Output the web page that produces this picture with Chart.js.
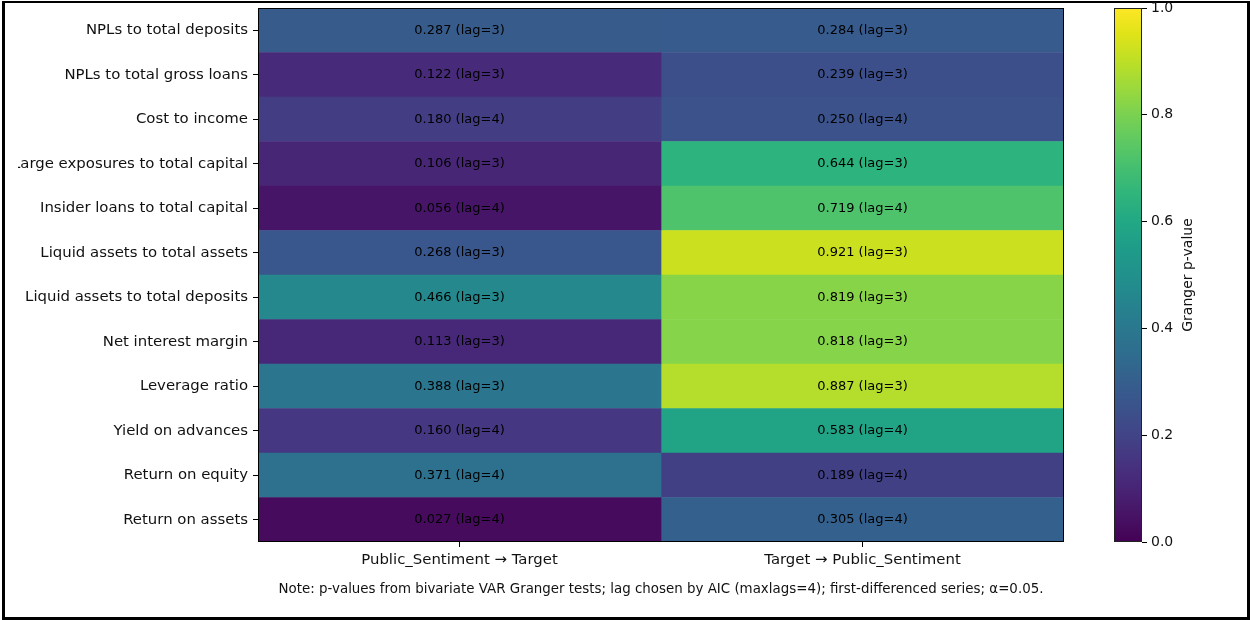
<!DOCTYPE html>
<html>
<head>
<meta charset="utf-8">
<script src="https://cdn.jsdelivr.net/npm/chart.js@4.4.1/dist/chart.umd.min.js"></script>
<style>
  html, body { margin: 0; padding: 0; background: #fff; }
  #frame {
    position: absolute; left: 2px; top: 1px; width: 1242px; height: 614px;
    border: 3px solid #000; border-top-width: 2px;
  }
  #heat { position: absolute; left: 18px; top: 0; }
  #cbar { position: absolute; left: 1100px; top: 0; }
</style>
</head>
<body>
<div id="frame"></div>
<canvas id="heat" width="1078" height="616"></canvas>
<canvas id="cbar" width="140" height="616"></canvas>
<script>
// Banking indicators tested against public sentiment
const indicators = [
  'NPLs to total deposits',
  'NPLs to total gross loans',
  'Cost to income',
  'Large exposures to total capital',
  'Insider loans to total capital',
  'Liquid assets to total assets',
  'Liquid assets to total deposits',
  'Net interest margin',
  'Leverage ratio',
  'Yield on advances',
  'Return on equity',
  'Return on assets'
];
const directions = ['Public_Sentiment \u2192 Target', 'Target \u2192 Public_Sentiment'];

// Granger p-values and AIC-selected lags, one entry per indicator
const pSentimentToTarget = [0.287, 0.122, 0.180, 0.106, 0.056, 0.268, 0.466, 0.113, 0.388, 0.160, 0.371, 0.027];
const lagSentimentToTarget = [3, 3, 4, 3, 4, 3, 3, 3, 3, 4, 4, 4];
const pTargetToSentiment = [0.284, 0.239, 0.250, 0.644, 0.719, 0.921, 0.819, 0.818, 0.887, 0.583, 0.189, 0.305];
const lagTargetToSentiment = [3, 3, 4, 3, 4, 3, 3, 3, 3, 4, 4, 4];

const colorbarTicks = [0.0, 0.2, 0.4, 0.6, 0.8, 1.0];
const noteText = 'Note: p-values from bivariate VAR Granger tests; lag chosen by AIC (maxlags=4); first-differenced series; \u03b1=0.05.';

// viridis colormap sampled every 0.05
const viridisStops = [
  '#440154', '#471365', '#482475', '#463480', '#414487', '#3b528b', '#355f8d',
  '#2f6c8e', '#2a788e', '#25848e', '#21918c', '#1e9c89', '#22a884', '#2fb47c',
  '#44bf70', '#5ec962', '#7ad151', '#9bd93c', '#bddf26', '#dfe318', '#fde725'
];
function hexToRgb(h) {
  return [parseInt(h.slice(1, 3), 16), parseInt(h.slice(3, 5), 16), parseInt(h.slice(5, 7), 16)];
}
function viridis(t) {
  t = Math.max(0, Math.min(1, t));
  const pos = t * (viridisStops.length - 1);
  const i = Math.min(Math.floor(pos), viridisStops.length - 2);
  const f = pos - i;
  const a = hexToRgb(viridisStops[i]), b = hexToRgb(viridisStops[i + 1]);
  const c = a.map((v, k) => Math.round(v + (b[k] - v) * f));
  return 'rgb(' + c.join(',') + ')';
}

const FONT = '"DejaVu Sans", sans-serif';
const TEXT = '#111';

// drop the extra room Chart.js reserves for edge labels
function noEdgePadding(s) {
  s.paddingTop = 0; s.paddingBottom = 0; s.paddingLeft = 0; s.paddingRight = 0;
}

// cell annotations, axes frame and footnote
const heatExtras = {
  id: 'heatExtras',
  afterDatasetsDraw(chart) {
    const ctx = chart.ctx;
    const area = chart.chartArea;
    ctx.save();
    ctx.font = '13px ' + FONT;
    ctx.fillStyle = '#000';
    ctx.textAlign = 'center';
    ctx.textBaseline = 'middle';
    chart.data.datasets.forEach((ds, di) => {
      chart.getDatasetMeta(di).data.forEach((bar, i) => {
        const cx = (bar.x + bar.base) / 2;
        ctx.fillText(ds.pValues[i].toFixed(3) + ' (lag=' + ds.lags[i] + ')', cx, bar.y);
      });
    });
    ctx.strokeStyle = '#000';
    ctx.lineWidth = 1;
    ctx.strokeRect(area.left + 0.5, area.top + 0.5, area.right - area.left - 1, area.bottom - area.top - 1);
    ctx.font = '13.4px ' + FONT;
    ctx.fillStyle = TEXT;
    ctx.fillText(noteText, (area.left + area.right) / 2, 590);
    ctx.restore();
  }
};

new Chart(document.getElementById('heat'), {
  type: 'bar',
  data: {
    labels: indicators,
    datasets: [
      {
        label: directions[0],
        data: indicators.map(() => 1),
        pValues: pSentimentToTarget,
        lags: lagSentimentToTarget,
        backgroundColor: pSentimentToTarget.map(viridis),
        borderWidth: 0,
        barPercentage: 1,
        categoryPercentage: 1
      },
      {
        label: directions[1],
        data: indicators.map(() => 1),
        pValues: pTargetToSentiment,
        lags: lagTargetToSentiment,
        backgroundColor: pTargetToSentiment.map(viridis),
        borderWidth: 0,
        barPercentage: 1,
        categoryPercentage: 1
      }
    ]
  },
  options: {
    indexAxis: 'y',
    responsive: false,
    animation: false,
    layout: { padding: { left: 0, top: 8, right: 32, bottom: 0 } },
    plugins: { legend: { display: false }, tooltip: { enabled: false } },
    scales: {
      x: {
        type: 'linear', min: 0, max: 2, stacked: true,
        afterBuildTicks: s => { s.ticks = [{ value: 0.5 }, { value: 1.5 }]; },
        afterFit: s => { s.height = 74; noEdgePadding(s); },
        ticks: {
          callback: v => directions[Math.floor(v)],
          font: { family: FONT, size: 14.9 }, color: TEXT, padding: 4,
          maxRotation: 0, autoSkip: false
        },
        grid: { drawOnChartArea: false, drawTicks: true, tickLength: 5, color: '#000' },
        border: { display: false }
      },
      y: {
        type: 'category', stacked: true, offset: true,
        afterFit: s => { s.width = 240; noEdgePadding(s); },
        ticks: { font: { family: FONT, size: 14.9 }, color: TEXT, padding: 5, autoSkip: false },
        grid: { offset: false, drawOnChartArea: false, drawTicks: true, tickLength: 5, color: '#000' },
        border: { display: false }
      }
    }
  },
  plugins: [heatExtras]
});

// colorbar outline and its rotated label
const colorbarExtras = {
  id: 'colorbarExtras',
  afterDatasetsDraw(chart) {
    const ctx = chart.ctx;
    const area = chart.chartArea;
    ctx.save();
    ctx.strokeStyle = '#222';
    ctx.lineWidth = 1;
    ctx.strokeRect(area.left + 0.5, area.top + 0.5, area.right - area.left - 1, area.bottom - area.top - 1);
    ctx.translate(88, (area.top + area.bottom) / 2);
    ctx.rotate(-Math.PI / 2);
    ctx.font = '14px ' + FONT;
    ctx.fillStyle = TEXT;
    ctx.textAlign = 'center';
    ctx.textBaseline = 'middle';
    ctx.fillText('Granger p-value', 0, 0);
    ctx.restore();
  }
};

new Chart(document.getElementById('cbar'), {
  type: 'bar',
  data: {
    labels: [''],
    datasets: [{
      data: [1],
      backgroundColor: c => {
        const area = c.chart.chartArea;
        if (!area) return viridisStops[10];
        const g = c.chart.ctx.createLinearGradient(0, area.bottom, 0, area.top);
        viridisStops.forEach((col, i) => g.addColorStop(i / (viridisStops.length - 1), col));
        return g;
      },
      borderWidth: 0,
      barPercentage: 1,
      categoryPercentage: 1
    }]
  },
  options: {
    responsive: false,
    animation: false,
    layout: { padding: { left: 14, top: 8, right: 0, bottom: 74 } },
    plugins: { legend: { display: false }, tooltip: { enabled: false } },
    scales: {
      x: { display: false },
      y: {
        position: 'right', min: 0, max: 1,
        afterBuildTicks: s => { s.ticks = colorbarTicks.map(v => ({ value: v })); },
        afterFit: s => { s.width = 98; noEdgePadding(s); },
        ticks: { callback: v => v.toFixed(1), font: { family: FONT, size: 14 }, color: TEXT, padding: 4 },
        grid: { drawOnChartArea: false, drawTicks: true, tickLength: 5, color: '#000' },
        border: { display: false }
      }
    }
  },
  plugins: [colorbarExtras]
});
</script>
</body>
</html>
